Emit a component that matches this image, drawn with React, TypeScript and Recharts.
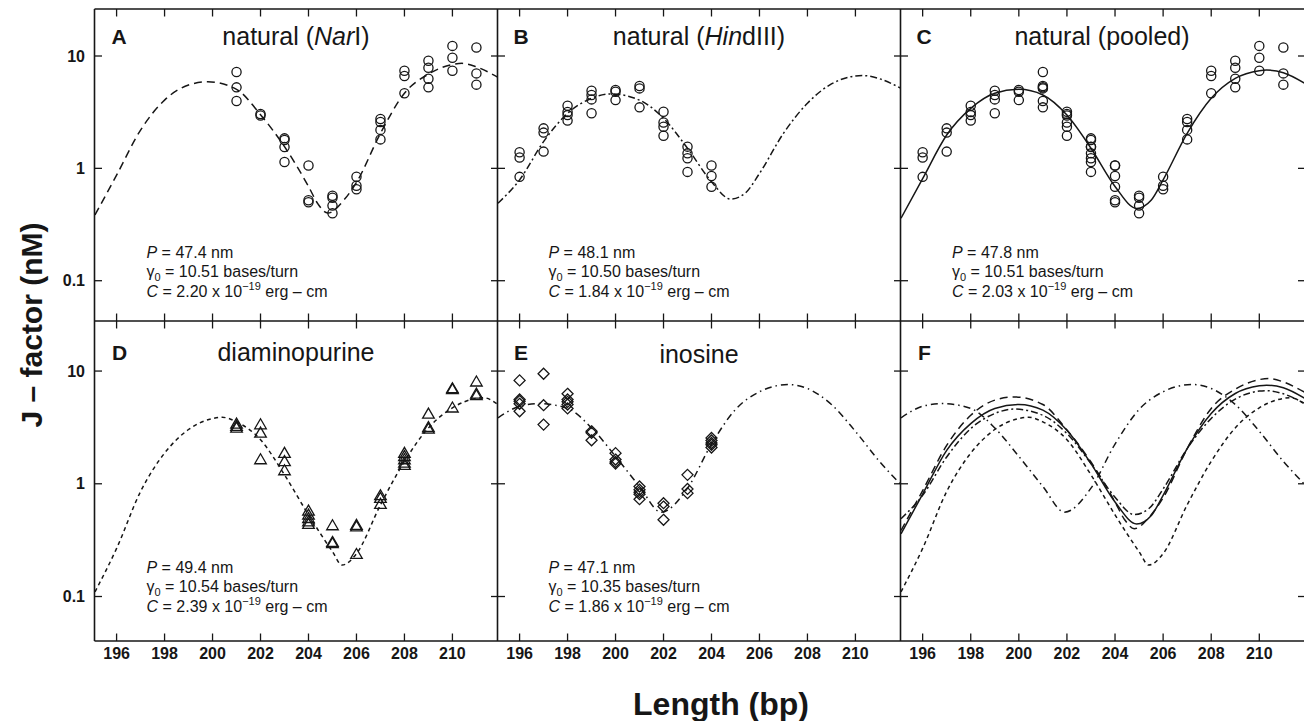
import React from "react";
import { ComposedChart, Line, Scatter, XAxis, YAxis } from "recharts";

// J-factor (nM) against DNA length (bp)
type Pt = [number, number];

const xTicks = [196, 198, 200, 202, 204, 206, 208, 210];
const yTicks = [0.1, 1, 10];

// measured points
const narIPoints: Pt[] = [
  [201, 7.2], [201, 5.26], [201, 3.98],
  [202, 3.05], [202, 2.95],
  [203, 1.85], [203, 1.79], [203, 1.55], [203, 1.14],
  [204, 1.06], [204, 0.52], [204, 0.5],
  [205, 0.571], [205, 0.548], [205, 0.466], [205, 0.398],
  [206, 0.843], [206, 0.7], [206, 0.652],
  [207, 2.75], [207, 2.59], [207, 2.2], [207, 1.81],
  [208, 7.4], [208, 6.64], [208, 4.66],
  [209, 9.08], [209, 7.87], [209, 6.28], [209, 5.26],
  [210, 12.3], [210, 9.66], [210, 7.4],
  [211, 11.9], [211, 7.0], [211, 5.56],
];

const hindIIIPoints: Pt[] = [
  [196, 1.39], [196, 1.25], [196, 0.84],
  [197, 2.27], [197, 2.08], [197, 1.41],
  [198, 3.61], [198, 3.17], [198, 2.98], [198, 2.66],
  [199, 4.91], [199, 4.5], [199, 4.11], [199, 3.09],
  [200, 4.98], [200, 4.81], [200, 4.05],
  [201, 5.41], [201, 5.15], [201, 3.49],
  [202, 3.19], [202, 2.56], [202, 2.35], [202, 1.95],
  [203, 1.56], [203, 1.36], [203, 1.23], [203, 0.93],
  [204, 1.06], [204, 0.855], [204, 0.687],
];

const dapPoints: Pt[] = [
  [201, 3.4], [201, 3.24], [201, 3.13],
  [202, 3.35], [202, 2.83], [202, 1.64],
  [203, 1.87], [203, 1.58], [203, 1.31],
  [204, 0.575], [204, 0.53], [204, 0.494], [204, 0.462], [204, 0.438],
  [205, 0.426], [205, 0.303], [205, 0.296],
  [206, 0.43], [206, 0.417], [206, 0.237],
  [207, 0.787], [207, 0.745], [207, 0.659],
  [208, 1.87], [208, 1.75], [208, 1.64], [208, 1.53], [208, 1.46],
  [209, 4.17], [209, 3.17], [209, 3.07],
  [210, 7.0], [210, 6.87], [210, 4.72],
  [211, 8.03], [211, 6.28], [211, 6.07],
];

const inosinePoints: Pt[] = [
  [196, 8.26], [196, 5.6], [196, 5.41], [196, 5.12], [196, 4.4],
  [197, 9.47], [197, 4.98], [197, 3.35],
  [198, 6.28], [198, 5.6], [198, 5.33], [198, 5.05], [198, 4.66],
  [199, 2.92], [199, 2.83], [199, 2.43],
  [200, 1.87], [200, 1.64], [200, 1.56], [200, 1.51],
  [201, 0.946], [201, 0.885], [201, 0.843], [201, 0.809], [201, 0.73],
  [202, 0.673], [202, 0.628], [202, 0.479],
  [203, 1.2], [203, 0.9], [203, 0.826],
  [204, 2.55], [204, 2.42], [204, 2.3], [204, 2.22], [204, 2.1],
];

// fitted curves
const narICurve: Pt[] = [
  [195.1, 0.385], [196, 0.87], [197, 2.19], [198, 4.05], [199, 5.52], [199.8, 5.9],
  [201, 5.05], [202, 3.0], [203, 1.56], [204, 0.69], [204.4, 0.48], [204.8, 0.4],
  [205.5, 0.53], [206, 0.75], [207, 2.05], [208, 4.66], [209, 6.9], [210, 8.4],
  [210.4, 8.6], [211, 8.0], [211.9, 6.45],
];

const hindIIICurve: Pt[] = [
  [195.1, 0.49], [196, 0.79], [197, 1.73], [198, 3.09], [199, 4.2], [199.8, 4.6],
  [201, 4.05], [202, 2.79], [203, 1.51], [204, 0.76], [204.8, 0.533], [205.4, 0.6],
  [206, 0.9], [207, 2.05], [208, 3.8], [209, 5.64], [210, 6.64], [210.3, 6.7],
  [211, 6.28], [211.9, 5.15],
];

const pooledCurve: Pt[] = [
  [195.1, 0.36], [196, 0.81], [197, 1.98], [198, 3.42], [199, 4.66], [200, 5.05],
  [201, 4.5], [202, 2.98], [203, 1.51], [204, 0.69], [204.9, 0.44], [205.5, 0.52],
  [206, 0.79], [207, 2.05], [208, 4.2], [209, 6.32], [210, 7.4], [210.3, 7.5],
  [211, 7.1], [211.9, 5.7],
];

const dapCurve: Pt[] = [
  [195.1, 0.11], [196, 0.267], [197, 0.855], [198, 1.87], [199, 3.03], [200, 3.79],
  [200.4, 3.89], [201, 3.54], [202, 2.46], [203, 1.2], [204, 0.53], [205, 0.25],
  [205.4, 0.19], [206, 0.24], [207, 0.65], [208, 1.58], [209, 3.13], [210, 4.72],
  [211, 5.72], [211.3, 5.8], [211.9, 5.05],
];

const inosineCurve: Pt[] = [
  [195.1, 3.85], [196, 4.87], [196.8, 5.15], [198, 4.66], [199, 3.13], [200, 1.75],
  [201, 0.946], [201.9, 0.56], [203, 0.914], [204, 2.25], [205, 4.56], [206, 6.55],
  [207.2, 7.6], [208, 7.0], [209, 5.05], [210, 2.92], [211, 1.58], [211.9, 0.98],
];

const panelLetters = ["A", "B", "C", "D", "E", "F"];
const paramP = ["47.4", "48.1", "47.8", "49.4", "47.1"];
const paramGamma = ["10.51", "10.50", "10.51", "10.54", "10.35"];
const paramC = ["2.20", "1.84", "2.03", "2.39", "1.86"];

const FONT = '"Liberation Sans", Arial, Helvetica, sans-serif';
const INK = "#161616";

const COLS = [94.5, 497.5, 900.5];
const COLW = [403, 403, 404];
const ROWS = [9, 321];
const ROWH = [312, 320];
const YDOM: [number, number][] = [
  [0.0438, 26.2],
  [0.0403, 27.8],
];
const XDOM: [number, number] = [195.1, 211.9];
const PAD = 40;

const toXY = (pts: Pt[]) => pts.map(([x, y]) => ({ x, y }));

const STYLES: Record<string, string | undefined> = {
  narI: "8 5",
  hindIII: "7 3 2 3",
  pooled: undefined,
  dap: "4 3.5",
  inosine: "7 4 1.5 4",
};
const CURVES: Record<string, Pt[]> = {
  narI: narICurve,
  hindIII: hindIIICurve,
  pooled: pooledCurve,
  dap: dapCurve,
  inosine: inosineCurve,
};

const CircleMark = (p: any) => (
  <circle cx={p.cx} cy={p.cy} r={4.6} fill="none" stroke={INK} strokeWidth={1.3} />
);
const TriangleMark = (p: any) => (
  <path
    d={`M${p.cx},${p.cy - 5.8}L${p.cx + 5.8},${p.cy + 4.2}L${p.cx - 5.8},${p.cy + 4.2}Z`}
    fill="none"
    stroke={INK}
    strokeWidth={1.3}
  />
);
const DiamondMark = (p: any) => (
  <path
    d={`M${p.cx},${p.cy - 5.5}L${p.cx + 5.5},${p.cy}L${p.cx},${p.cy + 5.5}L${p.cx - 5.5},${p.cy}Z`}
    fill="none"
    stroke={INK}
    strokeWidth={1.3}
  />
);

function Panel({
  col,
  row,
  curves,
  points,
  mark,
}: {
  col: number;
  row: number;
  curves: string[];
  points?: Pt[];
  mark?: (p: any) => React.ReactElement;
}) {
  const W = COLW[col];
  const H = ROWH[row];
  const top = PAD;
  const bottom = PAD + H;
  const left = PAD;
  const right = PAD + W;

  const xTick = (p: any) => (
    <g>
      <line x1={p.x} x2={p.x} y1={bottom} y2={bottom - 7.5} stroke={INK} strokeWidth={1.3} />
      <line x1={p.x} x2={p.x} y1={top} y2={top + 7.5} stroke={INK} strokeWidth={1.3} />
      {row === 1 && (
        <text
          x={p.x}
          y={bottom + 17.5}
          textAnchor="middle"
          fontFamily={FONT}
          fontWeight="bold"
          fontSize={16}
          fill={INK}
        >
          {p.payload.value}
        </text>
      )}
    </g>
  );

  const yTick = (p: any) => (
    <g>
      <line x1={left} x2={left + 7} y1={p.y} y2={p.y} stroke={INK} strokeWidth={1.3} />
      <line x1={right - 7} x2={right} y1={p.y} y2={p.y} stroke={INK} strokeWidth={1.3} />
      {col === 0 && (
        <text
          x={left - 10}
          y={p.y + 5.7}
          textAnchor="end"
          fontFamily={FONT}
          fontWeight="bold"
          fontSize={16}
          fill={INK}
        >
          {p.payload.value}
        </text>
      )}
    </g>
  );

  return (
    <div style={{ position: "absolute", left: COLS[col] - PAD, top: ROWS[row] - PAD }}>
      <ComposedChart
        width={W + 2 * PAD}
        height={H + 2 * PAD}
        margin={{ top: PAD, right: PAD, bottom: 0, left: 0 }}
      >
        <XAxis
          type="number"
          dataKey="x"
          domain={XDOM}
          ticks={xTicks}
          interval={0}
          height={PAD}
          axisLine={false}
          tickLine={false}
          tick={xTick}
          allowDataOverflow
        />
        <YAxis
          type="number"
          dataKey="y"
          scale="log"
          domain={YDOM[row]}
          ticks={yTicks}
          interval={0}
          width={PAD}
          axisLine={false}
          tickLine={false}
          tick={yTick}
          allowDataOverflow
        />
        {curves.map((name) => (
          <Line
            key={name}
            data={toXY(CURVES[name])}
            dataKey="y"
            type="monotone"
            stroke={INK}
            strokeWidth={1.5}
            strokeDasharray={STYLES[name]}
            dot={false}
            activeDot={false}
            isAnimationActive={false}
          />
        ))}
        {points && mark && (
          <Scatter data={toXY(points)} shape={mark} isAnimationActive={false} />
        )}
      </ComposedChart>
    </div>
  );
}

function Params({ x, y, i }: { x: number; y: number; i: number }) {
  const t = { fontFamily: FONT, fontSize: 16, fill: INK };
  return (
    <g>
      <text x={x} y={y} {...t}>
        <tspan fontStyle="italic">P</tspan>
        <tspan> = {paramP[i]} nm</tspan>
      </text>
      <text x={x} y={y + 19} {...t}>
        <tspan>γ</tspan>
        <tspan fontSize={11} dy={4}>0</tspan>
        <tspan dy={-4}> = {paramGamma[i]} bases/turn</tspan>
      </text>
      <text x={x} y={y + 39} {...t}>
        <tspan fontStyle="italic">C</tspan>
        <tspan> = {paramC[i]} x 10</tspan>
        <tspan fontSize={11} dy={-7}>−19</tspan>
        <tspan dy={7}> erg – cm</tspan>
      </text>
    </g>
  );
}

function Overlay() {
  const title = { fontFamily: FONT, fontSize: 25, fill: INK, textAnchor: "middle" as const };
  const letter = { fontFamily: FONT, fontSize: 21, fontWeight: "bold", fill: INK };
  const line = { stroke: INK, strokeWidth: 1.6 };
  const letterPos: Pt[] = [
    [111.5, 43.5], [513.5, 43.5], [916.5, 43.5],
    [112, 359.5], [514, 359.5], [918, 359.5],
  ];
  return (
    <svg
      width={1304}
      height={721}
      style={{ position: "absolute", left: 0, top: 0, pointerEvents: "none" }}
    >
      <line x1={94.5} x2={1304} y1={9} y2={9} {...line} />
      <line x1={94.5} x2={1304} y1={321} y2={321} {...line} />
      <line x1={94.5} x2={1304} y1={641} y2={641} {...line} />
      <line x1={94.5} x2={94.5} y1={9} y2={641} {...line} />
      <line x1={497.5} x2={497.5} y1={9} y2={641} {...line} />
      <line x1={900.5} x2={900.5} y1={9} y2={641} {...line} />

      {panelLetters.map((l, i) => (
        <text key={l} x={letterPos[i][0]} y={letterPos[i][1]} {...letter}>
          {l}
        </text>
      ))}

      <text x={296} y={45} {...title}>
        natural (<tspan fontStyle="italic">Nar</tspan>I)
      </text>
      <text x={699} y={45} {...title}>
        natural (<tspan fontStyle="italic">Hin</tspan>dIII)
      </text>
      <text x={1102} y={45} {...title}>
        natural (pooled)
      </text>
      <text x={296} y={360.5} {...title}>
        diaminopurine
      </text>
      <text x={699} y={363} {...title}>
        inosine
      </text>

      <Params x={146.5} y={258} i={0} />
      <Params x={548.5} y={258} i={1} />
      <Params x={952} y={258} i={2} />
      <Params x={146.5} y={573} i={3} />
      <Params x={548.5} y={573} i={4} />

      <text
        x={721}
        y={715}
        textAnchor="middle"
        fontFamily={FONT}
        fontWeight="bold"
        fontSize={32}
        fill={INK}
      >
        Length (bp)
      </text>
      <text
        transform="translate(42,325) rotate(-90)"
        textAnchor="middle"
        fontFamily={FONT}
        fontWeight="bold"
        fontSize={30}
        fill={INK}
      >
        J – factor (nM)
      </text>
    </svg>
  );
}

export default function App() {
  return (
    <div
      style={{
        position: "absolute",
        left: 0,
        top: 0,
        width: 1304,
        height: 721,
        background: "#fff",
        overflow: "hidden",
      }}
    >
      <Panel col={0} row={0} curves={["narI"]} points={narIPoints} mark={CircleMark} />
      <Panel col={1} row={0} curves={["hindIII"]} points={hindIIIPoints} mark={CircleMark} />
      <Panel
        col={2}
        row={0}
        curves={["pooled"]}
        points={[...narIPoints, ...hindIIIPoints]}
        mark={CircleMark}
      />
      <Panel col={0} row={1} curves={["dap"]} points={dapPoints} mark={TriangleMark} />
      <Panel col={1} row={1} curves={["inosine"]} points={inosinePoints} mark={DiamondMark} />
      <Panel col={2} row={1} curves={["dap", "inosine", "narI", "hindIII", "pooled"]} />
      <Overlay />
    </div>
  );
}
